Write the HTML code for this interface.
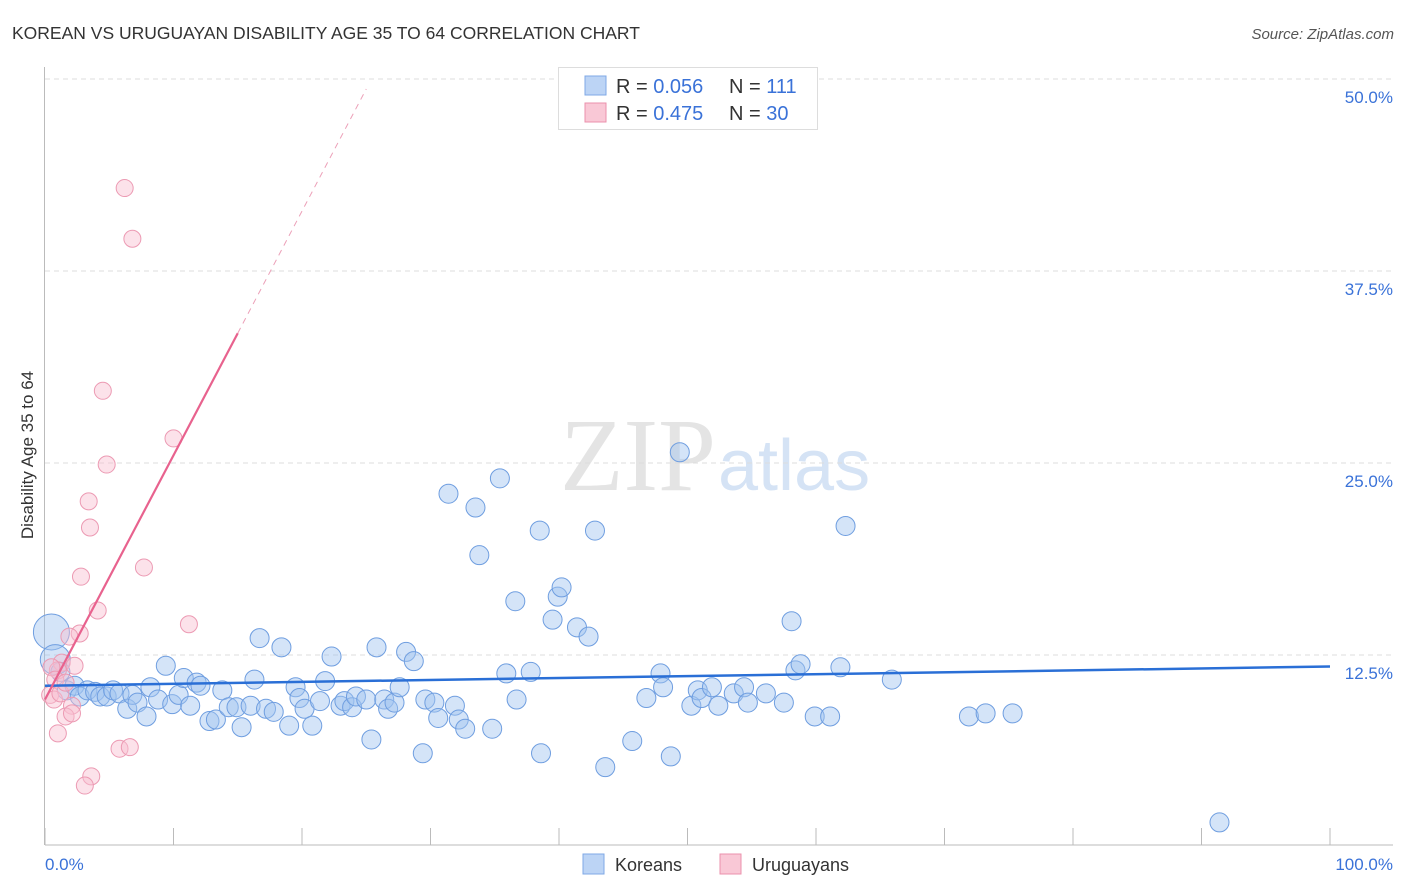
<!DOCTYPE html>
<html><head><meta charset="utf-8"><style>
body{margin:0;background:#fff;font-family:"Liberation Sans",sans-serif;}
#wrap{position:relative;width:1406px;height:892px;overflow:hidden;}
</style></head><body>
<div id="wrap">
<svg id="chart" width="1406" height="892" xmlns="http://www.w3.org/2000/svg">
<text x="12" y="39" font-size="17.5" fill="#333">KOREAN VS URUGUAYAN DISABILITY AGE 35 TO 64 CORRELATION CHART</text>
<text x="1394" y="39" font-size="15" fill="#555" font-style="italic" text-anchor="end">Source: ZipAtlas.com</text>
<text x="716" y="490" font-size="104" fill="#e4e4e4" text-anchor="end" font-family="Liberation Serif">ZIP</text>
<text x="718" y="490" font-size="72" fill="#d5e3f5">atlas</text>
<text transform="translate(33,455) rotate(-90)" font-size="17" fill="#333" text-anchor="middle">Disability Age 35 to 64</text>
<g id="grid"></g><g id="marks"></g><g id="lines"></g>
<g>
<rect x="558.5" y="67.5" width="259" height="62" fill="#fff" stroke="#ddd"/>
<rect x="585" y="76" width="21" height="19" fill="#bcd4f5" stroke="#7fa8e6"/>
<rect x="585" y="103" width="21" height="19" fill="#f9c8d6" stroke="#eb91ac"/>
<text x="616" y="93" font-size="20" fill="#333">R = <tspan fill="#3a72d8">0.056</tspan></text>
<text x="729" y="93" font-size="20" fill="#333">N = <tspan fill="#3a72d8">111</tspan></text>
<text x="616" y="120" font-size="20" fill="#333">R = <tspan fill="#3a72d8">0.475</tspan></text>
<text x="729" y="120" font-size="20" fill="#333">N = <tspan fill="#3a72d8">30</tspan></text>
</g>
<g>
<rect x="583" y="854" width="21" height="20" fill="#bcd4f5" stroke="#7fa8e6"/>
<text x="615" y="871" font-size="18" fill="#333">Koreans</text>
<rect x="720" y="854" width="21" height="20" fill="#f9c8d6" stroke="#eb91ac"/>
<text x="752" y="871" font-size="18" fill="#333">Uruguayans</text>
</g>
</svg>
</div>
<script>
const yTicks=[12.5,25,37.5,50];
const yTickLabels=["12.5%","25.0%","37.5%","50.0%"];
const xTickLabels=["0.0%","100.0%"];
const koreaX=[0.5,0.8,1.2,1.7,2.3,2.7,3.3,3.9,4.3,4.8,5.3,5.8,6.4,6.8,7.2,7.9,8.2,8.8,9.4,9.9,10.4,10.8,11.3,11.8,12.1,12.8,13.3,13.8,14.3,14.9,15.3,16.0,16.3,16.7,17.2,17.8,18.4,19.0,19.5,19.8,20.2,20.8,21.4,21.8,22.3,23.0,23.3,23.9,24.2,25.0,25.4,25.8,26.4,26.7,27.2,27.6,28.1,28.7,29.4,29.6,30.3,30.6,31.4,31.9,32.2,32.7,33.5,33.8,34.8,35.4,35.9,36.6,36.7,37.8,38.5,38.6,39.5,39.9,40.2,41.4,42.3,42.8,43.6,45.7,46.8,47.9,48.1,48.7,49.4,50.3,50.8,51.1,51.9,52.4,53.6,54.4,54.7,56.1,57.5,58.1,58.4,58.8,59.9,61.1,61.9,62.3,65.9,71.9,73.2,75.3,91.4];
const koreaY=[14.0,12.2,11.4,10.2,10.5,9.8,10.2,10.1,9.8,9.8,10.2,10.0,9.0,9.9,9.4,8.5,10.4,9.6,11.8,9.3,9.9,11.0,9.2,10.7,10.5,8.2,8.3,10.2,9.1,9.1,7.8,9.2,10.9,13.6,9.0,8.8,13.0,7.9,10.4,9.7,9.0,7.9,9.5,10.8,12.4,9.2,9.5,9.1,9.8,9.6,7.0,13.0,9.6,9.0,9.4,10.4,12.7,12.1,6.1,9.6,9.4,8.4,23.0,9.2,8.3,7.7,22.1,19.0,7.7,24.0,11.3,16.0,9.6,11.4,20.6,6.1,14.8,16.3,16.9,14.3,13.7,20.6,5.2,6.9,9.7,11.3,10.4,5.9,25.7,9.2,10.2,9.7,10.4,9.2,10.0,10.4,9.4,10.0,9.4,14.7,11.5,11.9,8.5,8.5,11.7,20.9,10.9,8.5,8.7,8.7,1.6];
const uruX=[6.2,6.8,4.5,10.0,4.8,3.4,3.5,7.7,2.8,4.1,11.2,2.7,1.9,1.3,2.3,1.0,0.5,0.8,0.4,0.7,1.2,1.6,2.1,1.6,2.1,1.0,5.8,6.6,3.6,3.1];
const uruY=[42.9,39.6,29.7,26.6,24.9,22.5,20.8,18.2,17.6,15.4,14.5,13.9,13.7,12.0,11.8,11.5,11.7,10.9,9.9,9.6,10.0,10.7,9.2,8.5,8.7,7.4,6.4,6.5,4.6,4.0];
const koreaTrend=[10.5,11.75];
const uruTrend=[9.6,1.59];
const X0=45,X1=1330,Y0=847,PX=15.36;
const sx=v=>X0+v*(X1-X0)/100, sy=v=>Y0-v*PX;
const NS="http://www.w3.org/2000/svg";
function mk(tag,attrs,parent){const e=document.createElementNS(NS,tag);for(const k in attrs)e.setAttribute(k,attrs[k]);parent.appendChild(e);return e;}
const grid=document.getElementById('grid'),marks=document.getElementById('marks'),lines=document.getElementById('lines');
yTicks.forEach((t,i)=>{
 const l=mk('line',{x1:45,x2:1393,y1:sy(t),y2:sy(t),stroke:'#ddd','stroke-dasharray':'5,4'},grid);
 
 
 const tx=mk('text',{x:1393,y:sy(t)+24,'font-size':17,fill:'#3a72d8','text-anchor':'end'},grid);
 tx.textContent=yTickLabels[i];
 
 
});
const ax=mk('line',{x1:45,x2:1393,y1:845,y2:845,stroke:'#bbb'},grid);


const ay=mk('line',{x1:44.5,x2:44.5,y1:67,y2:845,stroke:'#bbb'},grid);


for(let i=0;i<=10;i++){
 const t=mk('line',{x1:sx(i*10),x2:sx(i*10),y1:828,y2:845,stroke:'#bbb'},grid);
 
 
}
[[0,'start',45],[100,'end',1393]].forEach((d,i)=>{
 const tx=mk('text',{x:d[2],y:870,'font-size':17,fill:'#3a72d8','text-anchor':d[1]},grid);
 tx.textContent=xTickLabels[i];
 
 
});
koreaX.forEach((x,i)=>{
 const r=i==0?18:(i==1?15:9.5);
 const c=mk('circle',{cx:sx(x),cy:sy(koreaY[i]),r:r,fill:'rgba(160,196,240,0.45)',stroke:'#6f9ee0','stroke-width':1},marks);
 
 
});
uruX.forEach((x,i)=>{
 const c=mk('circle',{cx:sx(x),cy:sy(uruY[i]),r:8.5,fill:'rgba(248,190,208,0.45)',stroke:'#ec9ab3','stroke-width':1},marks);
 
 
});
const kl=mk('line',{x1:sx(0),y1:sy(koreaTrend[0]),x2:sx(100),y2:sy(koreaTrend[1]),stroke:'#2a6fd6','stroke-width':2.5},lines);


const ul=mk('line',{x1:sx(0),y1:sy(uruTrend[0]),x2:sx(15),y2:sy(uruTrend[0]+15*uruTrend[1]),stroke:'#e8628e','stroke-width':2.2},lines);


const ud=mk('line',{x1:sx(15),y1:sy(uruTrend[0]+15*uruTrend[1]),x2:sx(25),y2:sy(uruTrend[0]+25*uruTrend[1]),stroke:'#eca0b8','stroke-width':1,'stroke-dasharray':'6,5'},lines);


</script>
</body></html>
